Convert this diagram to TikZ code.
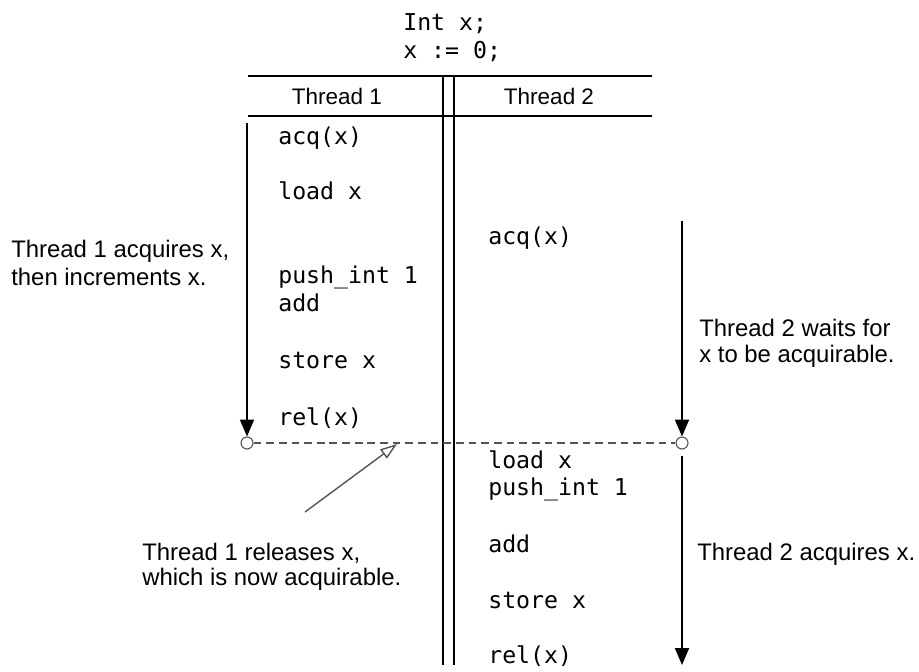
\documentclass[tikz,border=0pt]{standalone}
\usepackage{fontspec}
\setmainfont{Liberation Sans}
\setmonofont{DejaVu Sans Mono}
\usetikzlibrary{arrows.meta}

\definecolor{leadgray}{HTML}{555555}

\tikzset{
	code/.style={font=\ttfamily\fontsize{16.5}{19}\selectfont,anchor=base west,inner sep=0pt},
	note/.style={font=\fontsize{17}{20}\selectfont,anchor=base west,inner sep=0pt},
	heading/.style={font=\fontsize{16}{19}\selectfont,inner sep=0pt},
	rule/.style={line width=1.4pt},
	flow/.style={line width=1.1pt,-{Triangle[length=12pt,width=10pt]}},
	hook/.style={circle,draw=leadgray,fill=white,line width=0.8pt,inner sep=0pt,minimum size=8.5pt},
	handoff/.style={draw=leadgray,line width=1pt,dash pattern=on 5.5pt off 3.5pt},
	pointer/.style={draw=leadgray,line width=1pt,-{Triangle[open,length=12pt,width=8pt]}}
}

\begin{document}
\begin{tikzpicture}[x=0.025cm,y=-0.025cm]
			\useasboundingbox (0,0) rectangle (919,671);
			% shared declarations
			\node[code] (decl) at (403,30) {Int x;};
			\node[code] (init) at (403,58) {x := 0;};
			% table
			\draw[rule] (248,76) -- (652,76);
			\draw[rule] (248,116) -- (652,116);
			\draw[rule] (443,76) -- (443,665);
			\draw[rule] (454,76) -- (454,665);
			\node[heading] (head1) at (337,96) {Thread 1};
			\node[heading] (head2) at (549,96) {Thread 2};
			% thread 1 code
			\foreach \Nom/\y/\Txt in {ta/144/acq(x),tb/199/load x,tc/283/push\_int 1,td/311/add,te/368/store x,tf/425/rel(x)}
				\node[code] (\Nom) at (278,\y) {\Txt};
			% thread 2 code
			\foreach \Nom/\y/\Txt in {ua/244/acq(x),ub/468/load x,uc/495/push\_int 1,ud/552/add,ue/608/store x,uf/663/rel(x)}
				\node[code] (\Nom) at (488,\y) {\Txt};
			% time lines
			\coordinate (t1start) at (247,123);
			\coordinate (t2wait) at (682,221);
			\coordinate (t2go) at (682,456);
			\coordinate (t2end) at (682,665);
			\node[hook] (t1rel) at (247,443) {};
			\node[hook] (t2acq) at (682,443) {};
			\draw[flow] (t1start) -- (t1rel);
			\draw[flow] (t2wait) -- (t2acq);
			\draw[flow] (t2go) -- (t2end);
			\draw[handoff] (t1rel) -- (t2acq);
			% release pointer
			\coordinate (reltail) at (305,512);
			\coordinate (reltip) at (397,444);
			\draw[pointer] (reltail) -- (reltip);
			% notes
			\node[note] (acqA) at (11,257) {Thread 1 acquires x,};
			\node[note] (acqB) at (11,285) {then increments x.};
			\node[note] (waitA) at (699,336) {Thread 2 waits for};
			\node[note] (waitB) at (699,362) {x to be acquirable.};
			\node[note] (gotx) at (697,560) {Thread 2 acquires x.};
			\node[note] (relA) at (142,560) {Thread 1 releases x,};
			\node[note] (relB) at (142,585) {which is now acquirable.};
		\end{tikzpicture}
\end{document}
